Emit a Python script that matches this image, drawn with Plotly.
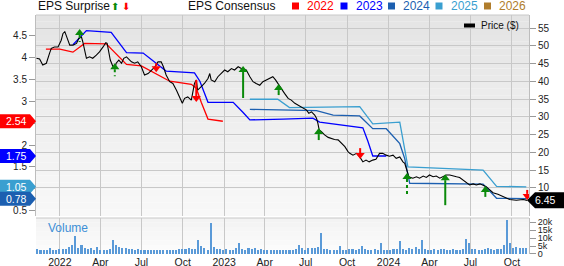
import plotly.graph_objects as go
import pandas as pd
import numpy as np

# ---------------- DATA ----------------
price_dates = [
"2021-11-10","2021-11-17","2021-11-24","2021-12-02","2021-12-09","2021-12-13","2021-12-20","2021-12-28",
"2022-01-04","2022-01-08","2022-01-12","2022-01-15","2022-01-19","2022-01-23","2022-01-30","2022-02-07",
"2022-02-12","2022-02-18","2022-02-21","2022-02-25","2022-03-01","2022-03-08","2022-03-15","2022-03-23",
"2022-03-30","2022-04-07","2022-04-13","2022-04-16","2022-04-20","2022-04-23","2022-04-29","2022-05-03",
"2022-05-06","2022-05-12","2022-05-18","2022-05-23","2022-05-29","2022-06-05","2022-06-09","2022-06-16",
"2022-06-23","2022-07-01","2022-07-08","2022-07-16","2022-07-23","2022-07-31","2022-08-07","2022-08-14",
"2022-08-19","2022-08-25","2022-09-02","2022-09-09","2022-09-17","2022-09-24","2022-09-30","2022-10-05",
"2022-10-12","2022-10-20","2022-10-27","2022-10-31","2022-11-03","2022-11-11","2022-11-18","2022-11-26",
"2022-11-30","2022-12-03","2022-12-11","2022-12-18","2022-12-26","2023-01-02","2023-01-09","2023-01-17",
"2023-01-24","2023-02-01","2023-02-08","2023-02-19","2023-02-27","2023-03-06","2023-03-13","2023-03-21",
"2023-03-28","2023-04-05","2023-04-12","2023-04-19","2023-04-25","2023-04-30","2023-05-08","2023-05-15",
"2023-05-23","2023-05-30","2023-06-07","2023-06-14","2023-06-22","2023-06-29","2023-07-03","2023-07-08",
"2023-07-14","2023-07-21","2023-07-25","2023-07-28","2023-07-31","2023-08-05","2023-08-12","2023-08-20",
"2023-08-27","2023-09-03","2023-09-11","2023-09-18","2023-09-26","2023-10-03","2023-10-07","2023-10-14",
"2023-10-22","2023-10-29","2023-11-05","2023-11-12","2023-11-19","2023-11-27","2023-12-04","2023-12-12",
"2023-12-19","2023-12-27","2024-01-03","2024-01-11","2024-01-18","2024-01-26","2024-02-02","2024-02-06",
"2024-02-11","2024-02-15","2024-02-24","2024-03-03","2024-03-10","2024-03-18","2024-03-25","2024-04-01",
"2024-04-09","2024-04-16","2024-04-24","2024-05-01","2024-05-08","2024-05-16","2024-05-23","2024-05-31",
"2024-06-07","2024-06-14","2024-06-22","2024-06-29","2024-07-07","2024-07-14","2024-07-22","2024-07-29",
"2024-08-05","2024-08-13","2024-08-20","2024-08-31","2024-09-11","2024-09-26","2024-10-11","2024-10-26",
"2024-11-04"]
price_vals = [
46.5,46.3,44.6,45.1,47.9,49.3,49.7,49.7,
51.6,53.5,54.0,53.0,51.1,50.2,50.2,50.7,
52.1,52.5,51.1,48.8,46.5,46.9,46.5,47.4,
48.3,49.7,50.9,50.7,47.9,46.0,44.1,43.6,
45.1,46.0,45.1,46.5,46.9,46.0,45.5,45.1,
45.5,44.1,41.8,42.2,43.2,44.1,45.5,45.5,
44.1,41.8,39.9,39.4,37.5,35.2,33.8,35.2,
35.6,34.7,39.4,40.4,37.5,38.5,39.4,40.8,
42.2,40.4,39.9,41.3,42.2,43.2,42.7,43.6,
43.2,44.1,43.6,43.2,41.3,39.9,39.4,38.9,
39.9,40.4,40.8,41.3,40.4,39.4,38.0,36.6,
35.2,34.7,33.8,33.3,32.8,32.4,31.9,31.0,
31.4,30.5,29.6,28.2,26.3,25.8,24.9,24.2,
23.9,23.6,23.5,22.7,21.6,20.2,19.7,19.2,
19.7,18.7,17.3,17.8,17.3,17.8,18.0,19.7,
19.7,19.2,18.9,19.2,18.3,18.7,17.3,16.9,
14.5,13.1,12.7,13.1,12.7,13.3,12.9,13.6,
13.1,13.3,12.7,13.1,13.6,13.6,13.3,13.1,
12.9,12.2,11.3,10.8,11.1,10.8,11.1,10.8,
10.3,9.4,8.6,8.2,7.5,6.7,6.5,6.7,
6.45]

eps2022_dates = ["2021-12-01","2022-01-01","2022-01-30","2022-02-25","2022-04-14","2022-05-29","2022-07-01",
                 "2022-09-02","2022-10-20","2022-10-31","2022-11-11","2022-11-26","2022-12-29"]
eps2022_vals = [4.18,4.18,4.11,4.31,4.30,3.83,3.80,3.45,3.38,3.29,2.97,2.59,2.54]

eps2023_dates = ["2022-01-30","2022-03-01","2022-04-25","2022-05-29","2022-07-05","2022-08-25","2022-10-27",
                 "2022-11-08","2022-11-26","2023-01-21","2023-02-12","2023-02-27","2023-05-12","2023-07-17",
                 "2023-08-01","2023-08-31","2023-10-07","2023-11-05","2023-11-16","2023-11-27","2023-12-27"]
eps2023_vals = [4.28,4.60,4.56,4.10,4.09,3.68,3.64,3.45,2.97,2.97,2.74,2.57,2.59,2.61,
                2.52,2.48,2.42,2.39,2.09,1.75,1.75]

eps2024_dates = ["2023-02-27","2023-06-18","2023-07-25","2023-08-31","2023-10-29","2023-11-27","2023-12-27",
                 "2024-01-26","2024-02-06","2024-02-17","2024-07-29","2024-08-28","2024-11-02"]
eps2024_vals = [2.81,2.79,2.78,2.68,2.66,2.37,2.37,2.03,1.69,1.13,1.11,0.79,0.78]

eps2025_dates = ["2023-02-27","2023-04-30","2023-05-26","2023-10-29","2023-11-27","2024-01-26","2024-02-13",
                 "2024-07-29","2024-08-28","2024-11-02"]
eps2025_vals = [3.04,3.04,2.85,2.87,2.48,2.52,1.50,1.43,1.06,1.05]

eps_years = ["2022", "2023", "2024", "2025", "2026"]
eps_last_labels = {"2022": 2.54, "2023": 1.75, "2025": 1.05, "2024": 0.78}

vol_start = "2021-11-12"
volume_k = [
3.0,2.6,2.4,2.8,3.9,2.7,2.5,2.9,3.3,3.0,
4.7,5.8,11.2,4.0,5.8,3.8,3.0,3.5,2.6,4.3,
2.8,2.6,2.4,3.0,9.0,5.8,4.7,3.9,3.6,2.9,
3.2,2.6,2.9,2.3,2.8,2.5,2.2,2.7,2.4,2.6,
2.3,2.5,2.2,2.6,2.8,3.0,3.3,2.9,3.6,3.1,
3.4,9.0,5.0,3.6,2.8,19.5,4.2,3.4,3.0,2.6,
3.0,2.5,2.8,3.6,6.6,3.3,2.6,4.0,3.2,3.5,
2.8,3.0,2.4,2.5,2.6,2.2,2.5,2.4,2.3,2.7,
2.5,2.4,3.0,5.8,3.6,2.8,4.0,3.6,3.6,4.2,
13.4,3.2,3.0,2.6,2.8,2.5,5.2,2.8,2.6,3.0,
3.4,2.6,3.0,5.2,3.2,2.8,2.6,3.4,2.8,7.2,
2.8,2.6,2.4,2.9,3.2,8.0,3.0,2.8,3.6,3.2,
4.2,3.4,9.0,3.0,2.6,2.8,3.0,2.4,3.2,3.0,
2.6,2.8,3.0,2.6,2.8,3.2,9.5,6.6,3.2,3.0,
2.8,2.6,3.2,3.8,3.2,2.8,3.0,3.4,5.8,21.5,
6.6,3.8,4.2,3.6,3.8,3.6]

surprise_dates = ["2022-02-14","2022-05-03","2022-08-03","2022-10-31","2023-02-12","2023-05-02",
                  "2023-07-30","2023-10-30","2024-02-11","2024-05-06","2024-08-03","2024-11-04"]
surprise_head_price = [53.6,44.0,43.7,35.3,43.2,38.1,25.7,19.2,13.0,12.7,9.4,7.7]
surprise_pct = [9,9,-7,-18,28,7,8,-7,18,27,7,-6]

tick_dates = ["2022-01-01","2022-04-01","2022-07-01","2022-10-01","2023-01-01","2023-04-01",
              "2023-07-01","2023-10-01","2024-01-01","2024-04-01","2024-07-01","2024-10-01"]
tick_text = ["2022","Apr","Jul","Oct","2023","Apr","Jul","Oct","2024","Apr","Jul","Oct"]

last_price = 6.45

# ---------------- STYLE / LAYOUT ----------------
W, H = 564, 266
ML, MR, MT, MB = 36, 35, 15, 12
PW, PH = W - ML - MR, H - MT - MB
MAIN_DOM = [0.159, 1.0]
VOL_DOM = [0.0, 0.1506]
EPS_RANGE = [0.386, 4.955]
PRICE_RANGE = [2.04, 58.7]
VOL_RANGE = [0, 22600]
X_RANGE = ["2021-11-09", "2024-11-08"]
FONT = "Liberation Sans, Arial, sans-serif"

colors = {"2022": "#ff0000", "2023": "#0000ff", "2024": "#1c5fb0", "2025": "#3a9fd0", "2026": "#b07d2c"}
GREEN = "#0a8a0a"
RED = "#ff0000"
dashed_idx = {0, 1, 2, 8}

def px_x(px):
    return (px - ML) / PW

def px_y(py):
    return (H - MB - py) / PH

main_px_h = (MAIN_DOM[1] - MAIN_DOM[0]) * PH
price_per_px = (PRICE_RANGE[1] - PRICE_RANGE[0]) / main_px_h

fig = go.Figure()

# EPS consensus lines
for yr, d, v in [("2022", eps2022_dates, eps2022_vals), ("2023", eps2023_dates, eps2023_vals),
                 ("2024", eps2024_dates, eps2024_vals), ("2025", eps2025_dates, eps2025_vals)]:
    fig.add_trace(go.Scatter(x=pd.to_datetime(d), y=v, mode="lines", yaxis="y", xaxis="x",
                             line=dict(color=colors[yr], width=1.3), hoverinfo="skip"))

# volume bars
vol_dates = pd.date_range(vol_start, periods=len(volume_k), freq="7D")
fig.add_trace(go.Bar(x=vol_dates, y=[v * 1000 for v in volume_k], yaxis="y3", xaxis="x",
                     marker=dict(color="#5a9ad8", line=dict(width=0)),
                     width=4.6 * 86400000, hoverinfo="skip"))

# price line
fig.add_trace(go.Scatter(x=pd.to_datetime(price_dates), y=price_vals, mode="lines", yaxis="y2", xaxis="x",
                         line=dict(color="#000000", width=1.1), hoverinfo="skip"))

# surprise arrows
for dashed in (False, True):
    for sign, col in ((1, GREEN), (-1, RED)):
        xs, ys, hx, hy = [], [], [], []
        for i, (d, hp, pct) in enumerate(zip(surprise_dates, surprise_head_price, surprise_pct)):
            if (i in dashed_idx) != dashed or np.sign(pct) != sign:
                continue
            L = abs(pct) * 1.0
            tail = hp - sign * L * price_per_px
            xs += [pd.Timestamp(d), pd.Timestamp(d), None]
            ys += [hp - sign * 2 * price_per_px, tail, None]
            hx.append(pd.Timestamp(d))
            hy.append(hp)
        if not hx:
            continue
        fig.add_trace(go.Scatter(x=xs, y=ys, mode="lines", yaxis="y2", xaxis="x",
                                 line=dict(color=col, width=2, dash="dot" if dashed else "solid"),
                                 hoverinfo="skip"))
        fig.add_trace(go.Scatter(x=hx, y=hy, mode="markers", yaxis="y2", xaxis="x",
                                 marker=dict(symbol="triangle-up" if sign > 0 else "triangle-down",
                                             size=8, color=col, line=dict(width=0)),
                                 hoverinfo="skip"))

shapes = []
# gradient backgrounds
n = 30
for k in range(n):
    y0 = MAIN_DOM[0] + (MAIN_DOM[1] - MAIN_DOM[0]) * k / n
    y1 = MAIN_DOM[0] + (MAIN_DOM[1] - MAIN_DOM[0]) * (k + 1) / n
    c = int(249 - (249 - 228) * (k + 0.5) / n)
    shapes.append(dict(type="rect", xref="paper", yref="paper", x0=0, x1=1, y0=y0, y1=y1,
                       fillcolor=f"rgb({c},{c},{c})", line=dict(width=0), layer="below"))
for k in range(8):
    y0 = VOL_DOM[0] + (VOL_DOM[1] - VOL_DOM[0]) * k / 8
    y1 = VOL_DOM[0] + (VOL_DOM[1] - VOL_DOM[0]) * (k + 1) / 8
    c = int(253 - (253 - 243) * (k + 0.5) / 8)
    shapes.append(dict(type="rect", xref="paper", yref="paper", x0=0, x1=1, y0=y0, y1=y1,
                       fillcolor=f"rgb({c},{c},{c})", line=dict(width=0), layer="below"))
# borders
shapes.append(dict(type="line", xref="paper", yref="paper", x0=0, x1=1, y0=1, y1=1,
                   line=dict(color="#c8c8c8", width=1)))
shapes.append(dict(type="line", xref="paper", yref="paper", x0=0, x1=1, y0=VOL_DOM[1], y1=VOL_DOM[1],
                   line=dict(color="#c8c8c8", width=1)))

# legend squares at top
legend_text_px = [305, 353.5, 401, 448.5, 497]
annotations = []
for yr, tx in zip(eps_years, legend_text_px):
    shapes.append(dict(type="rect", xref="paper", yref="paper", x0=px_x(tx - 13), x1=px_x(tx - 6),
                       y0=px_y(9.5), y1=px_y(2.5), fillcolor=colors[yr], line=dict(width=0)))
    annotations.append(dict(xref="paper", yref="paper", x=px_x(tx), y=px_y(6), text=yr, showarrow=False,
                            xanchor="left", yanchor="middle", font=dict(family=FONT, size=12, color=colors[yr])))

annotations += [
    dict(xref="paper", yref="paper", x=0, y=px_y(6), text="EPS Surprise", showarrow=False,
         xanchor="left", yanchor="middle", font=dict(family=FONT, size=12, color="#111")),
    dict(xref="paper", yref="paper", x=px_x(109), y=px_y(6.5), text="⬆", showarrow=False,
         xanchor="left", yanchor="middle", font=dict(family="DejaVu Sans", size=10, color=GREEN)),
    dict(xref="paper", yref="paper", x=px_x(120), y=px_y(6.5), text="⬇", showarrow=False,
         xanchor="left", yanchor="middle", font=dict(family="DejaVu Sans", size=10, color=RED)),
    dict(xref="paper", yref="paper", x=px_x(186), y=px_y(6), text="EPS Consensus", showarrow=False,
         xanchor="left", yanchor="middle", font=dict(family=FONT, size=12, color="#111")),
    dict(xref="paper", yref="paper", x=px_x(479), y=px_y(25.5), text="Price ($)", showarrow=False,
         xanchor="left", yanchor="middle", font=dict(family=FONT, size=10, color="#111")),
    dict(xref="paper", yref="paper", x=px_x(46), y=px_y(228), text="Volume", showarrow=False,
         xanchor="left", yanchor="middle", font=dict(family=FONT, size=12, color="#3d8fd6")),
]
# price legend swatch
shapes.append(dict(type="rect", xref="paper", yref="paper", x0=px_x(464), x1=px_x(475),
                   y0=px_y(27.5), y1=px_y(23.5), fillcolor="#000", line=dict(width=0)))

# left EPS tags
for yr in ["2022", "2023", "2025", "2024"]:
    v = eps_last_labels[yr]
    shapes.append(dict(type="path", xref="paper", yref="y", xsizemode="pixel", ysizemode="pixel",
                       xanchor=0, yanchor=v, path="M-36,-7 L-6,-7 L0,0 L-6,7 L-36,7 Z",
                       fillcolor=colors[yr], line=dict(width=0), layer="above"))
    annotations.append(dict(xref="paper", yref="y", x=px_x(16), y=v, text=f"{v:.2f}", showarrow=False,
                            xanchor="center", yanchor="middle",
                            font=dict(family=FONT, size=10.5, color="#ffffff")))

# last price tag
shapes.append(dict(type="path", xref="paper", yref="y2", xsizemode="pixel", ysizemode="pixel",
                   xanchor=1, yanchor=last_price, path="M-2,0 L6,8 L40,8 L40,-8 L6,-8 Z",
                   fillcolor="#000000", line=dict(width=0), layer="above"))
annotations.append(dict(xref="paper", yref="y2", x=px_x(545), y=last_price, text=f"{last_price:.2f}",
                        showarrow=False, xanchor="center", yanchor="middle",
                        font=dict(family=FONT, size=10.5, color="#ffffff")))

tickfont = dict(family=FONT, size=10, color="#222")
fig.update_layout(
    template="none",
    width=W, height=H, margin=dict(l=ML, r=MR, t=MT, b=MB, pad=0, autoexpand=False),
    paper_bgcolor="#ffffff", plot_bgcolor="rgba(0,0,0,0)", showlegend=False, bargap=0,
    xaxis=dict(domain=[0, 1], anchor="y3", type="date", range=X_RANGE, automargin=False,
               tickvals=pd.to_datetime(tick_dates), ticktext=tick_text, ticks="", ticklen=0,
               tickfont=dict(family=FONT, size=10.5, color="#222"),
               showgrid=True, gridcolor="#c8c8c8", gridwidth=1, zeroline=False, showline=False),
    yaxis=dict(domain=MAIN_DOM, range=EPS_RANGE, anchor="x", side="left", automargin=False,
               tickvals=[0.5, 1, 1.5, 2, 2.5, 3, 3.5, 4, 4.5],
               ticktext=["0.5", "1", "1.5", "2", "2.5", "3", "3.5", "4", "4.5"],
               ticks="outside", ticklen=6, tickcolor="#999", tickfont=tickfont,
               showgrid=False, zeroline=False, showline=True, linecolor="#bdbdbd"),
    yaxis2=dict(range=PRICE_RANGE, overlaying="y", anchor="x", side="right", automargin=False,
                tickvals=[10, 15, 20, 25, 30, 35, 40, 45, 50, 55],
                ticks="outside", ticklen=6, tickcolor="#999", tickfont=tickfont,
                showgrid=True, gridcolor="#c8c8c8", gridwidth=1, zeroline=False,
                showline=True, linecolor="#bdbdbd"),
    yaxis3=dict(domain=VOL_DOM, range=VOL_RANGE, anchor="x", side="right", automargin=False,
                tickvals=[0, 5000, 10000, 15000, 20000], ticktext=["0", "5k", "10k", "15k", "20k"],
                ticks="outside", ticklen=6, tickcolor="#999",
                tickfont=dict(family=FONT, size=9, color="#222"),
                showgrid=False, zeroline=False, showline=True, linecolor="#bdbdbd"),
    shapes=shapes, annotations=annotations,
)

fig.write_html("out.html")
